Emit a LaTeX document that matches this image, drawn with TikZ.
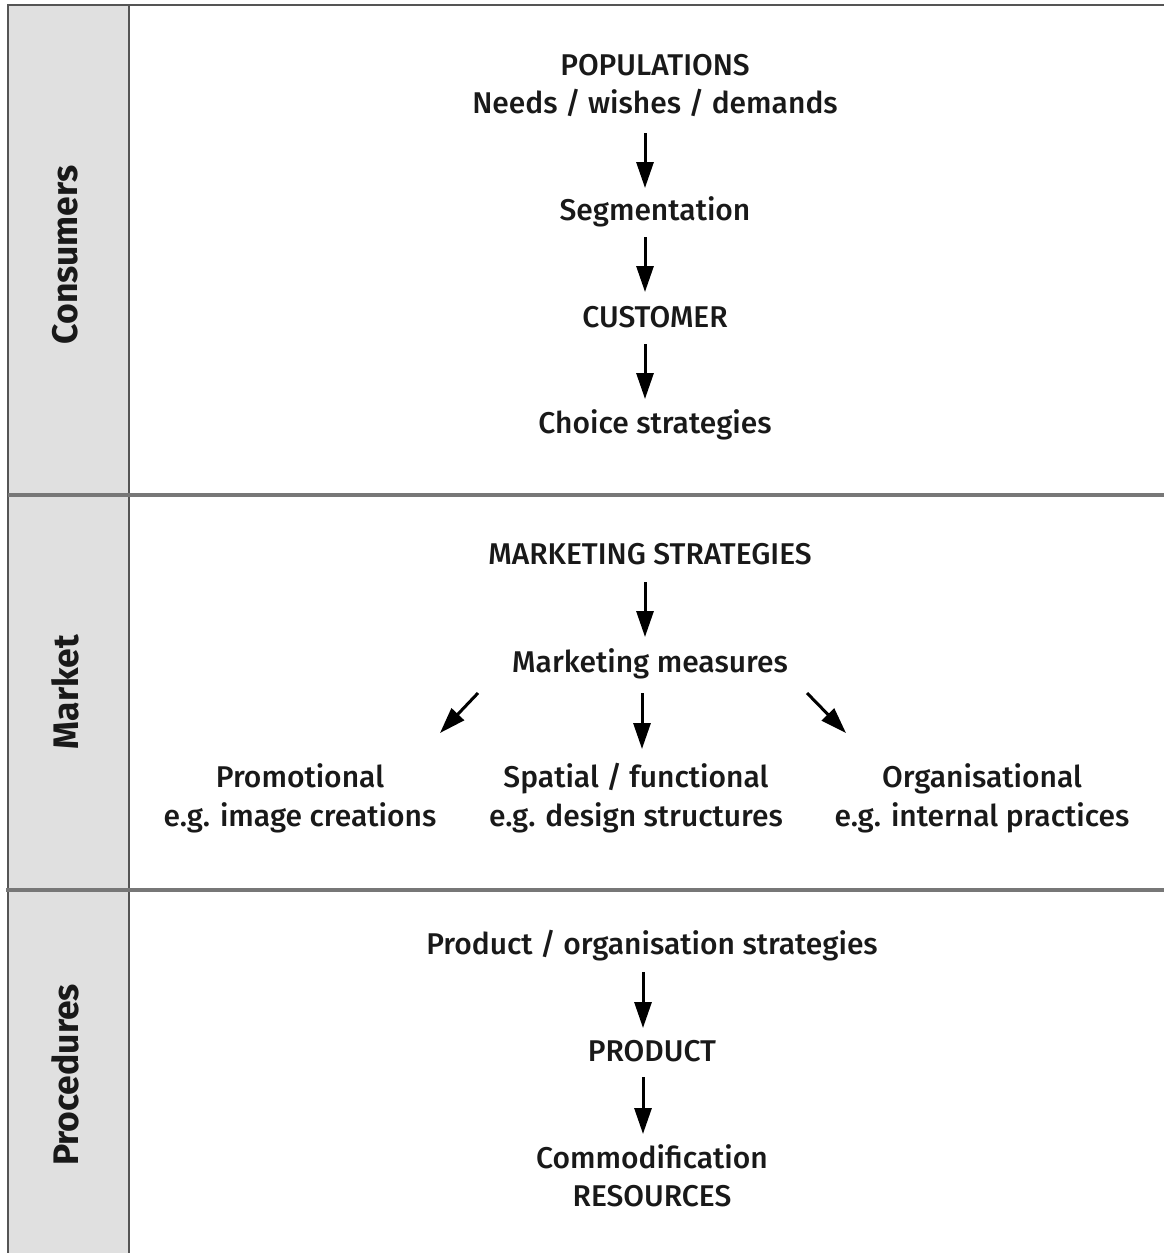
\documentclass[tikz,border=0pt]{standalone}
\usepackage{fontspec}
\setmainfont{Fira Sans}[UprightFont=* Medium, BoldFont=* Bold]
\usetikzlibrary{arrows.meta}
\definecolor{colfill}{HTML}{E0E0E0}
\definecolor{frameline}{HTML}{555555}
\definecolor{sepline}{HTML}{777777}
\begin{document}
\begin{tikzpicture}[x=1pt,y=-1pt,
  txt/.style={font=\fontsize{30}{34}\selectfont, inner sep=0pt, text height=20pt, text depth=0pt, anchor=center, text=black!90},
  side/.style={font=\fontsize{35.5}{40}\selectfont\bfseries, rotate=90, inner sep=0pt, text=black!90},
  arr/.style={line width=3pt, -{Triangle[length=26pt,width=17pt]}},
  frame/.style={draw=frameline, line width=2.2pt},
  sep/.style={draw=sepline, line width=3.2pt}]
\useasboundingbox (0,0) rectangle (1164,1253);
% column
\fill[colfill] (8,5) rectangle (129,1253);
\draw[frame] (1164,5) -- (8,5) -- (8,1253);
\draw[frame] (129,5) -- (129,1253);
\draw[sep] (8,495) -- (1164,495);
\draw[sep] (6,890) -- (1164,890);
% side labels
\node[side] (lcons) at (65,255) {Consumers};
\node[side] (lmark) at (65,692) {Market};
\node[side] (lproc) at (65,1075) {Procedures};
% consumers
\node[txt] (pop) at (655,65) {POPULATIONS};
\node[txt] (needs) at (655,103) {Needs / wishes / demands};
\node[txt] (seg) at (655,210) {Segmentation};
\node[txt] (cust) at (655,317) {CUSTOMER};
\node[txt] (choice) at (655,423) {Choice strategies};
\coordinate (a1s) at (645,133); \coordinate (a1e) at (645,188);
\coordinate (a2s) at (645,237); \coordinate (a2e) at (645,292);
\coordinate (a3s) at (645,344); \coordinate (a3e) at (645,399);
\draw[arr] (a1s) -- (a1e);
\draw[arr] (a2s) -- (a2e);
\draw[arr] (a3s) -- (a3e);
% market
\node[txt] (mstrat) at (650,554) {MARKETING STRATEGIES};
\node[txt] (mmeas) at (650,662) {Marketing measures};
\node[txt] (promo) at (300,777) {Promotional};
\node[txt] (promo2) at (300,816) {e.g. image creations};
\node[txt] (spat) at (636,777) {Spatial / functional};
\node[txt] (spat2) at (636,816) {e.g. design structures};
\node[txt] (org) at (982,777) {Organisational};
\node[txt] (org2) at (982,816) {e.g. internal practices};
\coordinate (b1s) at (645,582); \coordinate (b1e) at (645,637);
\coordinate (bls) at (478,693); \coordinate (ble) at (440,733);
\coordinate (bms) at (642,693); \coordinate (bme) at (642,749);
\coordinate (brs) at (807,693); \coordinate (bre) at (846,733);
\draw[arr] (b1s) -- (b1e);
\draw[arr] (bls) -- (ble);
\draw[arr] (bms) -- (bme);
\draw[arr] (brs) -- (bre);
% procedures
\node[txt] (pstrat) at (652,944) {Product / organisation strategies};
\node[txt] (prod) at (652,1051) {PRODUCT};
\node[txt] (comm) at (652,1158) {Commodification};
\node[txt] (res) at (652,1196) {RESOURCES};
\coordinate (c1s) at (643,972); \coordinate (c1e) at (643,1028);
\coordinate (c2s) at (643,1077); \coordinate (c2e) at (643,1134);
\draw[arr] (c1s) -- (c1e);
\draw[arr] (c2s) -- (c2e);
\end{tikzpicture}
\end{document}
